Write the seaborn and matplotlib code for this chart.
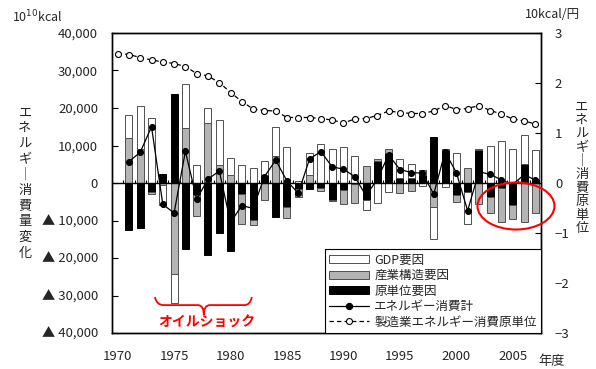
import numpy as np
import pandas as pd
import seaborn as sns
import matplotlib.pyplot as plt
from matplotlib.patches import Ellipse, PathPatch, Patch
from matplotlib.path import Path
from matplotlib.lines import Line2D

# 年度別のエネルギー消費量変化 (10^10 kcal) 要因分解
years = list(range(1971, 2008))
intensity_factor = [-12400, -12100, -2500, 2500, 23700, -17700, -3200, -19200, -13400, -18000,
                    -2900, -9900, 2100, -9000, -6300, -1500, -1700, -1400, -4400, -1900,
                    -300, -4400, 5900, 7900, 1300, 1300, 2100, 12400, 8800, -3300,
                    -2300, 8700, -3700, -1400, -5900, 5100, 1200]
structure_factor = [12100, 9150, -300, -500, -24350, 14600, -5600, 15900, 4800, 2100,
                    -8100, -1400, -4400, 7300, -3100, -2100, 2100, -700, -400, -3800,
                    -5100, 4500, 400, 1200, -2600, -2000, 1400, -6300, 400, -1700,
                    3900, -5600, -4200, -9000, -3800, -10500, -7900]
gdp_factor = [6100, 11350, 17400, -5400, -7750, 11800, 4700, 4200, 12000, 4700,
              4700, 4100, 3800, 7700, 9700, 600, 5800, 10300, 9100, 9500,
              7100, -2800, -5400, -2300, 5100, 3800, -800, -8700, -1000, 7900,
              -8600, 300, 10000, 11100, 9200, 7600, 7600]
total_change = [5700, 8200, 15000, -5700, -8000, 8450, -4300, 1000, 3200, -10500,
                -6000, -6800, 1700, 6100, 500, -2700, 6400, 8400, 4300, 3700,
                1700, -3400, 1000, 7500, 3600, 2800, 2600, -3000, 8300, 2800,
                -7400, 3000, 2300, 800, -400, 2200, 800]

# 製造業エネルギー消費原単位 (10kcal/円)
unit_years = list(range(1970, 2008))
unit_consumption = [2.59, 2.57, 2.51, 2.46, 2.42, 2.39, 2.33, 2.19, 2.14, 2.01,
                    1.81, 1.63, 1.48, 1.45, 1.44, 1.31, 1.31, 1.31, 1.29, 1.26,
                    1.20, 1.28, 1.29, 1.35, 1.44, 1.41, 1.39, 1.39, 1.44, 1.55,
                    1.47, 1.49, 1.55, 1.45, 1.38, 1.28, 1.24, 1.18]

x_ticks = [1970, 1975, 1980, 1985, 1990, 1995, 2000, 2005]
left_ticks = [40000, 30000, 20000, 10000, 0, -10000, -20000, -30000, -40000]
right_ticks = [3, 2, 1, 0, -1, -2, -3]

df = pd.DataFrame({"year": years, "原単位要因": intensity_factor,
                   "産業構造要因": structure_factor, "GDP要因": gdp_factor,
                   "total": total_change})
unit_df = pd.DataFrame({"year": unit_years, "unit": unit_consumption})

sns.set_theme(style="white")
plt.rcParams['font.family'] = ['Noto Sans CJK JP', 'DejaVu Sans']
plt.rcParams['axes.unicode_minus'] = True

fig = plt.figure(figsize=(5.96, 3.69), dpi=100)
ax = fig.add_axes([112 / 596, 1 - 333 / 369, 429 / 596, 300 / 369])
ax2 = ax.twinx()

# stacked bars: 原単位 next to zero, then 産業構造, GDP outermost
pos = np.zeros(len(df))
neg = np.zeros(len(df))
bar_styles = [("原単位要因", "black", "black"),
              ("産業構造要因", "#b4b4b4", "#505050"),
              ("GDP要因", "white", "#505050")]
for col, fc, ec in bar_styles:
    v = df[col].values.astype(float)
    bottom = np.where(v >= 0, pos, neg)
    ax.bar(df["year"], v, bottom=bottom, width=0.62, color=fc,
           edgecolor=ec, linewidth=0.7, zorder=2)
    pos += np.clip(v, 0, None)
    neg += np.clip(v, None, 0)

ax.axhline(0, color="black", lw=1, zorder=3)
ax.vlines(np.arange(1969.5, 2008, 1), 0, 700, color="black", lw=0.8, zorder=3)

sns.lineplot(data=df, x="year", y="total", ax=ax, color="black", lw=0.9,
             marker="o", markersize=4.3, markeredgecolor="black", zorder=4)
sns.lineplot(data=unit_df, x="year", y="unit", ax=ax2, color="black", lw=0.9,
             linestyle=(0, (3.5, 2.5)), marker="o", markersize=4.3,
             markerfacecolor="white", markeredgecolor="black", markeredgewidth=0.8)

ax.set_xlim(1969.5, 2007.5)
ax.set_ylim(-40000, 40000)
ax2.set_ylim(-3, 3)
ax.set_xlabel("")
ax.set_ylabel("")
ax2.set_xlabel("")
ax2.set_ylabel("")

ax.set_xticks(x_ticks)
ax.set_xticklabels([str(t) for t in x_ticks], fontsize=9.5)
ax.tick_params(axis="x", length=0, pad=12)
ax.set_yticks(left_ticks)
ax.set_yticklabels([f"{t:,}" if t >= 0 else f"▲ {-t:,}" for t in left_ticks], fontsize=9.5)
ax.tick_params(axis="y", direction="in", length=4, width=0.8, color="black", pad=10)
ax2.set_yticks(right_ticks)
ax2.set_yticklabels([str(t).replace("-", "−") for t in right_ticks], fontsize=9.5)
ax2.tick_params(axis="y", direction="in", length=4, width=0.8, color="black", pad=10)
for a in (ax, ax2):
    for s in a.spines.values():
        s.set_color("black")
        s.set_linewidth(1)

handles = [Patch(facecolor="white", edgecolor="#505050", lw=0.7),
           Patch(facecolor="#b4b4b4", edgecolor="#505050", lw=0.7),
           Patch(facecolor="black", edgecolor="black", lw=0.7),
           Line2D([], [], color="black", lw=0.9, marker="o", markersize=4.3),
           Line2D([], [], color="black", lw=0.9, linestyle=(0, (3.5, 2.5)), marker="o",
                  markersize=4.3, markerfacecolor="white", markeredgewidth=0.8)]
labels = ["GDP要因", "産業構造要因", "原単位要因", "エネルギー消費計", "製造業エネルギー消費原単位"]
leg = ax2.legend(handles, labels, loc="lower right", bbox_to_anchor=(1, 0),
                 borderaxespad=0, frameon=True, fancybox=False, edgecolor="black",
                 framealpha=1, fontsize=9, handlelength=3.2, handleheight=0.6,
                 labelspacing=0.2, borderpad=0.35, handletextpad=0.4)
leg.get_frame().set_linewidth(0.8)

# オイルショック annotation
brace = Path([(0.100, 0.12), (0.104, 0.093), (0.120, 0.093),
              (0.200, 0.093), (0.214, 0.093), (0.214, 0.06),
              (0.214, 0.093), (0.228, 0.093), (0.309, 0.093),
              (0.322, 0.093), (0.326, 0.12)],
             [Path.MOVETO, Path.CURVE3, Path.CURVE3,
              Path.LINETO, Path.CURVE3, Path.CURVE3,
              Path.CURVE3, Path.CURVE3, Path.LINETO,
              Path.CURVE3, Path.CURVE3])
ax2.add_patch(PathPatch(brace, transform=ax.transAxes, fill=False,
                        edgecolor="red", lw=1.3, clip_on=False, zorder=6))
ax2.text(0.221, 0.033, "オイルショック", transform=ax.transAxes, color="red",
         fontsize=10, fontweight="bold", ha="center", va="center", zorder=6)
ax2.add_patch(Ellipse((0.9417, 0.4233), 0.1795, 0.1567, transform=ax.transAxes,
                      fill=False, edgecolor="red", lw=1.5, clip_on=False, zorder=6))

# 単位・軸タイトル
fig.text(12 / 596, 1 - 17 / 369, "10$^{10}$kcal", fontsize=9, va="center")
fig.text(525 / 596, 1 - 14 / 369, "10kcal/円", fontsize=9, va="center")
fig.text(538 / 596, 1 - 362 / 369, "年度", fontsize=9.5, va="center")
fig.text(25 / 596, 1 - 183 / 369, "\n".join("エネルギ│消費量変化"), fontsize=9.5,
         ha="center", va="center", linespacing=1.25)
fig.text(582 / 596, 1 - 168 / 369, "\n".join("エネルギ│消費原単位"), fontsize=9.5,
         ha="center", va="center", linespacing=1.05)

fig.savefig("out.png", dpi=100)
